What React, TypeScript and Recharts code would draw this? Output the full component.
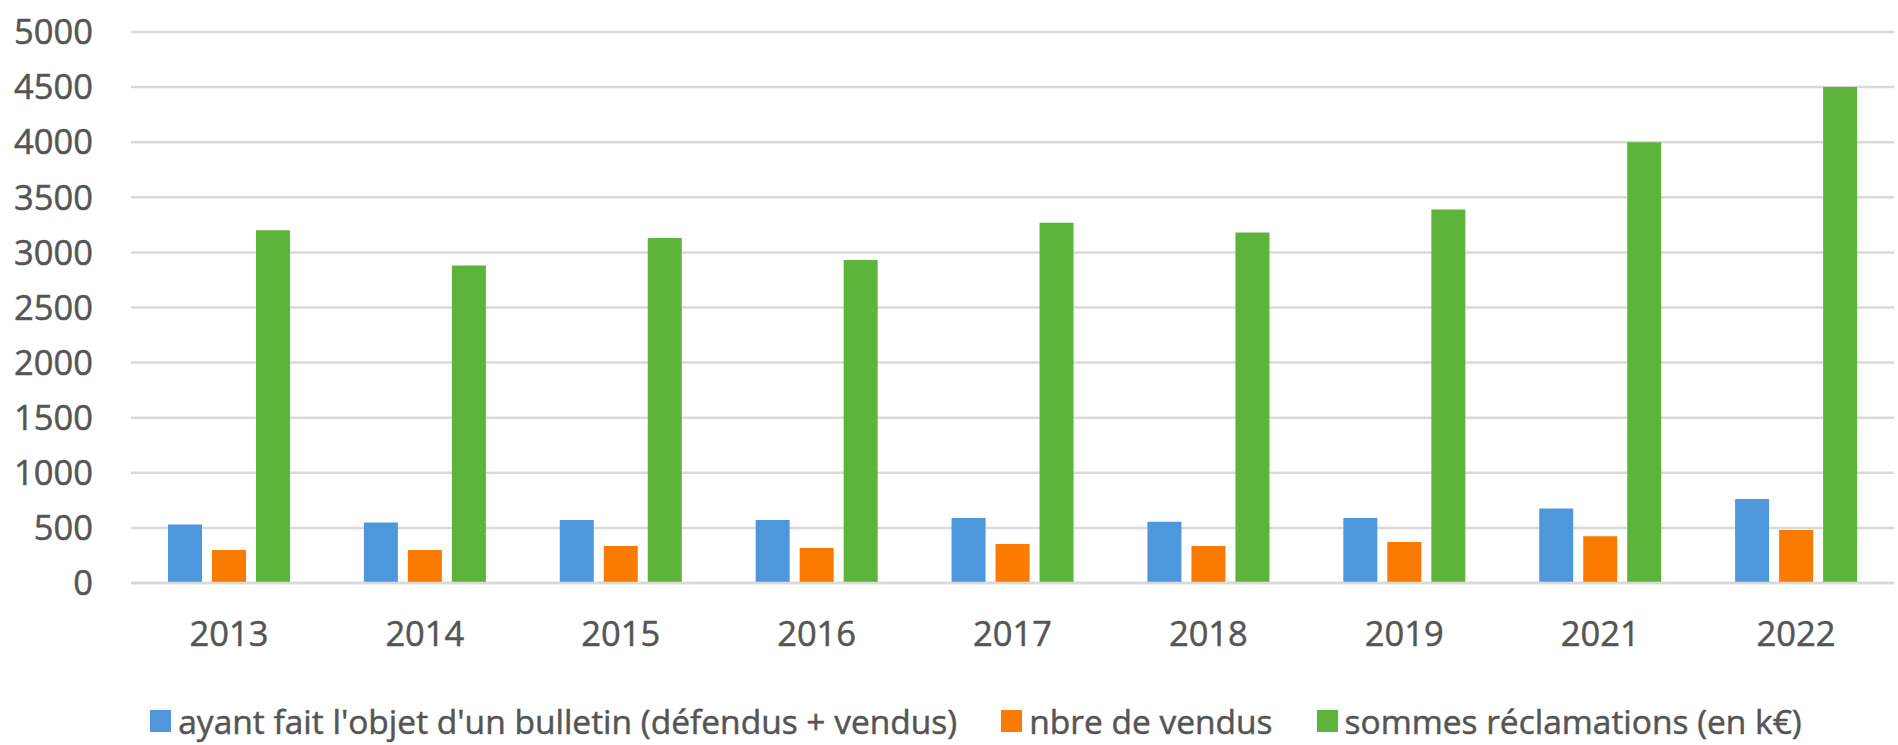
import { BarChart, Bar, XAxis, YAxis, CartesianGrid, Legend } from "recharts";

const years = ["2013", "2014", "2015", "2016", "2017", "2018", "2019", "2021", "2022"];
const bulletins = [530, 548, 571, 571, 590, 556, 590, 675, 762];
const vendus = [300, 300, 336, 318, 355, 336, 373, 425, 482];
const reclamations = [3200, 2880, 3130, 2930, 3270, 3180, 3390, 4000, 4500];
const yTicks = [0, 500, 1000, 1500, 2000, 2500, 3000, 3500, 4000, 4500, 5000];

const SERIES = [
  { key: "bulletins", name: "ayant fait l'objet d'un bulletin (défendus + vendus)", color: "#4d98dc" },
  { key: "vendus", name: "nbre de vendus", color: "#fb7a00" },
  { key: "reclamations", name: "sommes réclamations (en k€)", color: "#5cb43a" },
];

const data = years.map((year, i) => ({
  year,
  bulletins: bulletins[i],
  vendus: vendus[i],
  reclamations: reclamations[i],
}));

const FONT = "'Open Sans', sans-serif";
const TEXT = "#555555";
const GRID = "#d9d9d9";

const tickStyle = { fill: TEXT, fontSize: 34.5, fontFamily: FONT, stroke: TEXT, strokeWidth: 0.5 };

function LegendRow() {
  return (
    <div
      style={{
        display: "flex",
        justifyContent: "center",
        alignItems: "center",
        height: 44,
        paddingLeft: 58,
        fontFamily: FONT,
        fontSize: 33.5,
        lineHeight: "40px",
        color: TEXT,
        whiteSpace: "nowrap",
        position: "relative",
        top: -2,
        WebkitTextStroke: "0.5px " + TEXT,
      }}
    >
      {SERIES.map((s, i) => (
        <div key={s.key} style={{ display: "flex", alignItems: "center", marginLeft: i === 0 ? 0 : 44 }}>
          <span style={{ display: "inline-block", width: 21, height: 22, background: s.color, marginRight: 7 }} />
          <span>{s.name}</span>
        </div>
      ))}
    </div>
  );
}

export default function App() {
  return (
    <div style={{ position: "absolute", left: 0, top: 0, width: 1898, height: 745, background: "#fff" }}>
      <BarChart
        width={1898}
        height={745}
        data={data}
        margin={{ top: 32, right: 4, left: 0, bottom: 0 }}
        barSize={34}
        barGap={10}
      >
        <CartesianGrid vertical={false} stroke={GRID} strokeWidth={2.5} />
        <XAxis
          dataKey="year"
          height={118}
          axisLine={{ stroke: GRID, strokeWidth: 2.5 }}
          tickLine={false}
          tickSize={0}
          tickMargin={39}
          tick={tickStyle}
        />
        <YAxis
          width={131}
          domain={[0, 5000]}
          ticks={yTicks}
          axisLine={false}
          tickLine={false}
          tickSize={0}
          tickMargin={38}
          tick={tickStyle}
        />
        <Legend verticalAlign="bottom" content={() => <LegendRow />} />
        {SERIES.map((s) => (
          <Bar key={s.key} dataKey={s.key} name={s.name} fill={s.color} isAnimationActive={false} />
        ))}
      </BarChart>
    </div>
  );
}
